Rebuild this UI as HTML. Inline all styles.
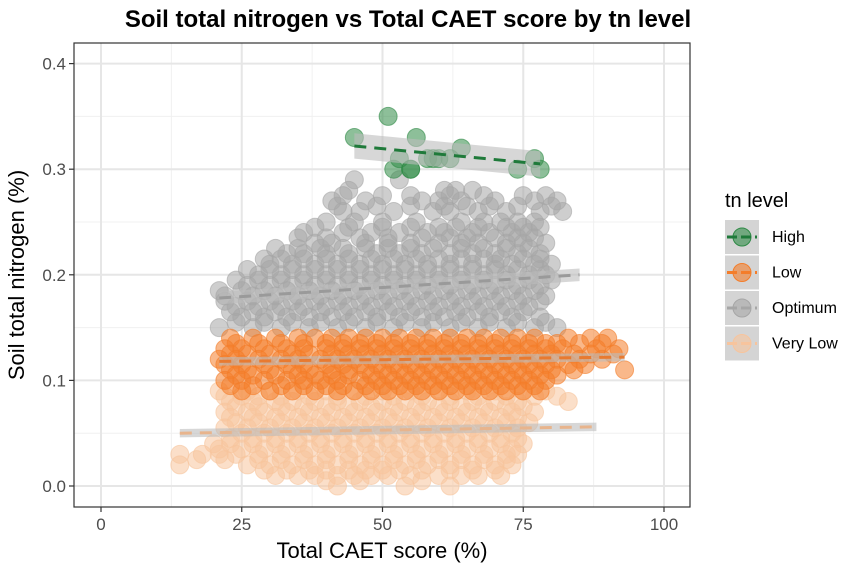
<!DOCTYPE html>
<html><head><meta charset="utf-8"><style>
body{margin:0;background:#fff;font-family:"Liberation Sans",sans-serif;}
</style></head><body>
<svg id="chart" width="851" height="571" xmlns="http://www.w3.org/2000/svg">
<text x="408" y="27" text-anchor="middle" font-size="24" font-weight="bold" fill="#000">Soil total nitrogen vs Total CAET score by tn level</text>
<g id="grid"></g>
<g id="bands"></g>
<g id="points"></g>
<g id="lines"></g>
<rect x="74" y="43" width="616" height="464" fill="none" stroke="#333" stroke-width="1.2"/>
<g id="axes"></g>
<text x="382" y="558" text-anchor="middle" font-size="22" fill="#000">Total CAET score (%)</text>
<text transform="translate(24,275) rotate(-90)" text-anchor="middle" font-size="22" fill="#000">Soil total nitrogen (%)</text>
<g id="legend">
<text x="725" y="207" font-size="20" fill="#000">tn level</text>
</g>
</svg>
<script>
const groups=["High","Low","Optimum","Very Low"];
const colors=["#2f8a46","#f47d2a","#a6a6a6","#f7c49d"];
const xTicks=[0,25,50,75,100];
const yTicks=[0.0,0.1,0.2,0.3,0.4];
const yTickLabels=["0.0","0.1","0.2","0.3","0.4"];
const highX=[45,51,52,53,55,55,56,58,59,60,62,64,74,77,78];
const highY=[0.33,0.35,0.30,0.31,0.30,0.30,0.33,0.31,0.31,0.31,0.31,0.32,0.30,0.31,0.30];
const lowLevels=[0.14,0.135,0.13,0.125,0.12,0.115,0.11,0.105,0.10,0.095,0.09];
const lowRows=[[23,27,31,35,38,41,44,47,50,53,56,59,62,65,68,71,74,77,83,87,90],
[24,28,32,36,40,43,46,49,52,55,58,61,64,67,70,73,76,79,81,85,89],
[22,25,29,33,36,40,43,46,49,52,55,58,61,64,67,70,73,76,79,82,88,92],
[23,26,30,34,37,41,44,47,50,53,56,59,62,65,68,71,74,77,80,84,87,91],
[21,24,28,32,35,39,42,45,48,51,54,57,60,63,66,69,72,75,78,81,85,89],
[22,25,29,33,36,40,43,46,49,52,55,58,61,64,67,70,73,76,79,83,86],
[23,26,30,34,37,41,44,47,50,53,56,59,62,65,68,71,74,77,80,84,93],
[24,27,31,35,38,41,44,48,51,54,57,60,63,66,69,72,75,78,81],
[22,25,29,33,36,39,42,46,49,52,55,58,61,64,67,70,73,76,79],
[23,27,32,36,40,43,47,50,53,56,59,62,65,68,71,74,77],
[25,30,34,38,42,45,48,51,54,57,60,63,66,69,72,75,78]];
const vlLevels=[0.09,0.085,0.08,0.075,0.07,0.065,0.06,0.055,0.05,0.045,0.04,0.035,0.03,0.025,0.02,0.015,0.01,0.005,0.00];
const vlRows=[[21,26,30,35,40,45,50,55,60,65,70,75,79],
[22,25,28,32,37,42,47,52,57,62,67,72,77,81],
[23,27,31,34,38,42,46,50,54,58,62,66,70,74,83],
[24,28,32,36,40,44,48,52,56,60,64,68,72,75],
[22,26,29,33,37,41,45,49,53,57,61,65,69,73,77],
[23,27,31,35,39,43,47,51,55,59,63,67,71,74],
[24,28,32,36,40,44,48,52,56,60,64,68,72,76],
[22,26,30,34,38,42,46,50,54,58,62,66,70,74],
[25,29,33,37,41,45,49,53,57,61,65,69,73],
[23,27,31,35,39,43,47,51,55,59,63,67,71,74],
[20,23,27,31,35,39,43,47,51,55,59,63,67,71,75],
[21,25,29,33,37,41,45,49,53,57,61,65,69,73],
[14,18,21,24,28,32,36,40,44,48,52,56,60,64,68,72,74],
[17,22,28,32,36,40,44,48,52,56,60,64,68,72],
[14,26,30,34,38,42,46,50,54,58,62,66,70,73],
[29,33,37,40,44,47,50,53,57,62,66,70],
[31,35,38,42,45,48,51,55,60,64,67,71],
[40,46,57],
[42,54,62]];
const optLevels=[0.29,0.28,0.275,0.27,0.265,0.26,0.25,0.245,0.24,0.235,0.23,0.225,0.22,0.215,0.21,0.205,0.20,0.195,0.19,0.185,0.18,0.175,0.17,0.165,0.16,0.155,0.15];
const optRows=[[45,53],[44,61,63,66],[43,50,55,62,68,75,79],[41,47,57,60,64,70,77,81],[42,49,55,61,65,69,74,80],
[43,46,52,59,62,67,72,78,82],
[40,45,50,56,64,68,71,74,77],[38,44,50,55,60,63,67,72,75,78],
[36,43,48,53,58,61,66,69,73,76],[35,40,46,51,57,62,65,70,74,77],
[38,41,47,51,55,60,64,67,72,75,79],[31,35,39,43,47,51,55,59,64,68,72,76],
[33,36,40,44,49,53,57,62,66,70,74,78],[29,32,36,40,44,48,52,56,60,64,68,71,75,78],
[30,34,38,42,46,50,54,58,62,66,70,73,77,80],[26,30,34,38,42,46,50,54,58,62,66,70,74,78],
[28,32,36,40,44,48,52,56,60,64,68,72,76,79],[24,28,32,36,40,44,48,52,56,60,64,68,72,76,80],
[26,30,34,38,42,46,50,54,58,62,66,70,74,78],[21,25,29,33,37,41,45,49,53,57,61,65,69,73,77],
[22,27,31,35,39,43,47,51,55,59,63,67,71,75,79],[22,26,30,34,38,42,46,50,54,58,62,66,70,74,78],
[24,28,32,36,40,44,48,52,56,60,64,68,72,76],[23,27,31,35,39,43,47,51,55,59,63,67,71,75],
[25,29,33,37,41,45,49,53,57,61,65,69,73,78],[24,29,34,39,44,49,54,59,64,69,74,79],
[21,27,32,37,42,47,52,57,62,67,72,77,81]];
// trend lines: [x0,y0,x1,y1,halfBand]
const trendHigh=[45,0.322,78,0.305,0.012];
const trendLow=[21,0.118,93,0.122,0.004];
const trendOpt=[21,0.178,85,0.200,0.006];
const trendVL=[14,0.050,88,0.056,0.004];

const NS="http://www.w3.org/2000/svg";
const X0=74,X1=690,Y0=43,Y1=507;
function sx(v){return 101+v*5.63;}
function sy(v){return 486-v*1056;}
function mk(tag,attrs,parent){const e=document.createElementNS(NS,tag);for(const k in attrs)e.setAttribute(k,attrs[k]);parent.appendChild(e);return e;}
const grid=document.getElementById('grid'),axes=document.getElementById('axes');
[12.5,37.5,62.5,87.5].forEach(v=>{const l=mk('line',{x1:sx(v),x2:sx(v),y1:Y0,y2:Y1,stroke:'#f0f0f0','stroke-width':1},grid);

});
[0.05,0.15,0.25,0.35].forEach(v=>{const l=mk('line',{x1:X0,x2:X1,y1:sy(v),y2:sy(v),stroke:'#f0f0f0','stroke-width':1},grid);

});
xTicks.forEach(v=>{const l=mk('line',{x1:sx(v),x2:sx(v),y1:Y0,y2:Y1,stroke:'#e6e6e6','stroke-width':2},grid);


const t=mk('line',{x1:sx(v),x2:sx(v),y1:Y1,y2:Y1+5,stroke:'#333','stroke-width':1.2},axes);


const tx=mk('text',{x:sx(v),y:Y1+23,'text-anchor':'middle','font-size':17,fill:'#4d4d4d'},axes);tx.textContent=v;

});
yTicks.forEach((v,i)=>{const l=mk('line',{x1:X0,x2:X1,y1:sy(v),y2:sy(v),stroke:'#e6e6e6','stroke-width':2},grid);


const t=mk('line',{x1:X0-5,x2:X0,y1:sy(v),y2:sy(v),stroke:'#333','stroke-width':1.2},axes);


const tx=mk('text',{x:X0-8,y:sy(v)+6,'text-anchor':'end','font-size':17,fill:'#4d4d4d'},axes);tx.textContent=yTickLabels[i];

});

const pts=document.getElementById('points');
function drawPts(xs,ys,color,name){xs.forEach((x,i)=>{const c=mk('circle',{cx:sx(x),cy:sy(ys[i]),r:9,fill:color,'fill-opacity':0.55,stroke:color,'stroke-opacity':0.6},pts);

});}
function flat(levels,rows){const xs=[],ys=[];rows.forEach((r,i)=>r.forEach(x=>{xs.push(x);ys.push(levels[i]);}));return [xs,ys];}
const vl=flat(vlLevels,vlRows),op=flat(optLevels,optRows),lo=flat(lowLevels,lowRows);
drawPts(vl[0],vl[1],colors[3],'point-very-low');
drawPts(op[0],op[1],colors[2],'point-optimum');
drawPts(lo[0],lo[1],colors[1],'point-low');
drawPts(highX,highY,colors[0],'point-high');

const lines=document.getElementById('lines');
function trend(t,name,dcol){
const p=[[sx(t[0]),sy(t[1]+t[4])],[sx(t[2]),sy(t[3]+t[4])],[sx(t[2]),sy(t[3]-t[4])],[sx(t[0]),sy(t[1]-t[4])]];
const b=mk('polygon',{points:p.map(q=>q.join(',')).join(' '),fill:'#bdbdbd','fill-opacity':0.6},lines);


const l=mk('line',{x1:sx(t[0]),y1:sy(t[1]),x2:sx(t[2]),y2:sy(t[3]),stroke:dcol,'stroke-width':3,'stroke-dasharray':'12,8'},lines);

}
trend(trendVL,'very-low','#e8b48c');
trend(trendOpt,'optimum','#9a9a9a');
trend(trendLow,'low','#e87a30');
trend(trendHigh,'high','#1f7a3a');

const lg=document.getElementById('legend');
groups.forEach((g,i)=>{const cy=237+i*35.5;
const k=mk('g',{},lg);


mk('rect',{x:725,y:cy-17,width:34,height:34,fill:'#d4d4d4'},k);
mk('circle',{cx:742,cy:cy,r:9,fill:colors[i],'fill-opacity':0.6,stroke:colors[i]},k);
mk('line',{x1:727,x2:757,y1:cy,y2:cy,stroke:i==0?'#1f7a3a':colors[i],'stroke-width':3,'stroke-dasharray':'10,4'},k);
const t=mk('text',{x:772,y:cy+5,'font-size':16,fill:'#000'},k);t.textContent=g;});
</script>
</body></html>
